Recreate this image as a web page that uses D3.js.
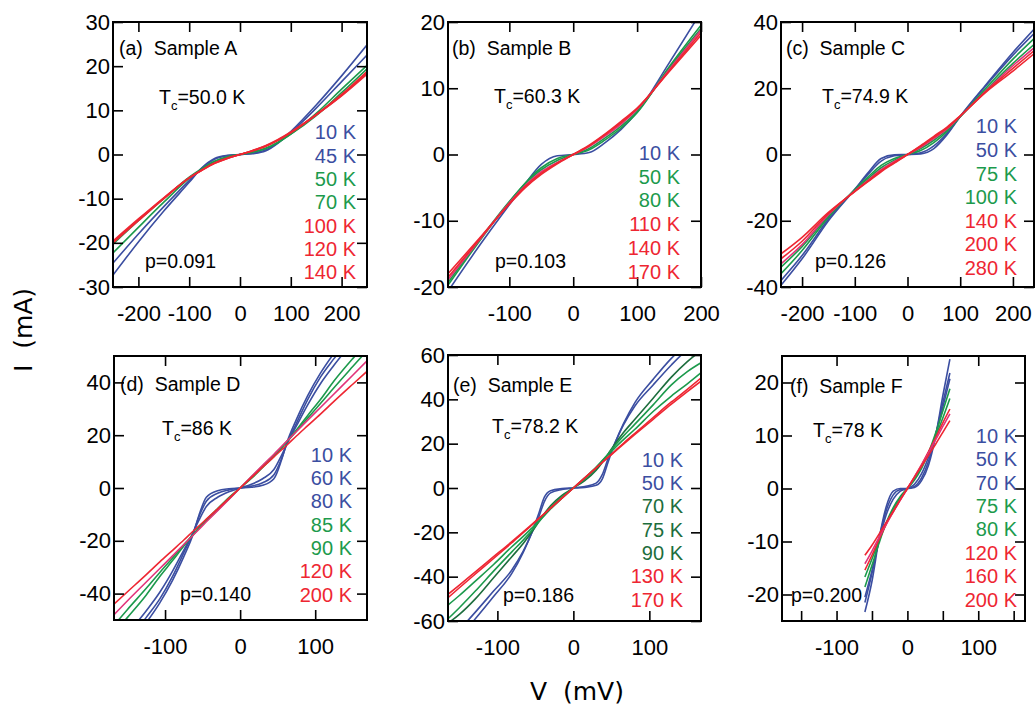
<!DOCTYPE html>
<html><head><meta charset="utf-8">
<script src="https://cdn.jsdelivr.net/npm/d3@7"></script>
<style>body{margin:0;background:#fff}svg{display:block}</style>
</head><body>
<svg id="chart" width="1035" height="707"></svg>
<script>
// ---------------- DATA ----------------
// Panel (a) Sample A
const vA = [-250,-200,-150,-100,-75,-50,-25,0,25,50,75,100,150,200,250];
const tempsA = [10,45,50,70,100,120,140];
const iA = [
  [-27.3,-19.8,-12.8,-6.3,-3.0,-0.9,-0.2,0,0.2,0.8,2.6,5.2,11.2,17.8,24.8],
  [-24.6,-18.0,-11.8,-5.9,-3.1,-1.1,-0.3,0,0.3,1.0,2.7,5.0,10.5,16.5,22.5],
  [-22.3,-16.5,-10.8,-5.4,-3.3,-1.5,-0.5,0,0.5,1.3,2.7,4.6,9.3,14.8,20.2],
  [-20.3,-15.0,-10.0,-5.1,-3.2,-1.6,-0.6,0,0.6,1.4,2.8,4.6,8.8,14.0,19.4],
  [-20.0,-15.0,-10.0,-5.3,-3.5,-1.9,-0.8,0,0.8,1.8,3.2,4.9,9.0,13.6,18.8],
  [-19.8,-14.8,-9.9,-5.3,-3.5,-2.0,-0.9,0,0.9,1.9,3.3,5.0,9.0,13.4,18.5],
  [-19.6,-14.6,-9.8,-5.3,-3.6,-2.0,-0.9,0,0.9,2.0,3.4,5.1,9.0,13.3,18.2]
];
const tcA = "50.0", pA = "0.091";
const xTicksA = [-200,-100,0,100,200], yTicksA = [-30,-20,-10,0,10,20,30];

// Panel (b) Sample B
const vB = [-195,-150,-100,-75,-50,-25,0,25,50,75,100,150,200];
const tempsB = [10,50,80,110,140,170];
const iB = [
  [-20.5,-14.2,-7.6,-4.4,-1.5,-0.2,0,0.3,1.8,3.8,6.4,13.8,21.5],
  [-19.6,-13.5,-7.2,-4.3,-2.0,-0.6,0,0.7,2.2,4.0,6.3,13.2,19.5],
  [-19.2,-13.3,-7.1,-4.4,-2.3,-0.9,0,0.9,2.5,4.3,6.5,13.0,19.0],
  [-18.8,-13.3,-7.3,-4.7,-2.6,-1.2,0,1.2,2.8,4.6,6.8,12.8,18.8],
  [-18.4,-13.2,-7.4,-4.8,-2.8,-1.3,0,1.3,3.0,4.8,6.9,12.6,18.4],
  [-17.9,-13.0,-7.5,-5.0,-3.0,-1.4,0,1.4,3.1,5.0,7.0,12.5,18.0]
];
const tcB = "60.3", pB = "0.103";
const xTicksB = [-100,0,100,200], yTicksB = [-20,-10,0,10,20];

// Panel (c) Sample C
const vC = [-240,-200,-150,-100,-75,-50,-25,0,25,50,75,100,150,200,240];
const tempsC = [10,50,75,100,140,200,280];
const iC = [
  [-39.5,-31.5,-20.0,-10.5,-5.5,-1.2,-0.1,0,0.2,1.8,6.0,11.5,21.3,30.8,37.8],
  [-38.0,-30.5,-19.5,-10.6,-6.0,-2.0,-0.4,0,0.5,2.6,6.4,11.5,21.0,30.0,36.5],
  [-36.0,-29.0,-18.9,-10.6,-6.8,-3.3,-1.2,0,1.2,3.6,7.0,11.4,20.2,28.8,35.0],
  [-34.0,-27.8,-18.5,-10.8,-7.3,-4.0,-1.7,0,1.8,4.3,7.4,11.4,19.6,27.5,33.2],
  [-33.0,-27.2,-18.2,-11.0,-7.8,-4.6,-2.1,0,2.2,4.8,7.7,11.5,19.4,26.8,32.2],
  [-31.5,-26.2,-17.8,-11.1,-8.0,-4.9,-2.4,0,2.5,5.2,8.0,11.6,19.2,26.0,31.3],
  [-30.0,-25.0,-17.5,-11.2,-8.2,-5.2,-2.6,0,2.7,5.5,8.3,11.7,19.0,25.2,30.4]
];
const tcC = "74.9", pC = "0.126";
const xTicksC = [-200,-100,0,100,200], yTicksC = [-40,-20,0,20,40];

// Panel (d) Sample D
const vD = [-168,-150,-125,-107,-90,-75,-62,-55,-45,-30,-15,0,15,30,45,55,62,75,90,107,125,150,169];
const tempsD = [10,60,80,85,90,120,200];
const iD = [
  [-68,-60,-51,-43.5,-35,-26,-17,-10.5,-3.5,-1.0,-0.3,0,0.3,1.0,3.5,10.5,17,26,35,43.5,51,60,68],
  [-66,-58,-49,-42,-33.5,-24.5,-16.5,-11,-5,-2,-0.7,0,0.7,2,5,11,16.5,24.5,33.5,42,49,58,66],
  [-63,-55.5,-46.5,-39.5,-31.5,-23.5,-16.5,-12.3,-7,-3.5,-1.4,0,1.4,3.5,7,12.3,16.5,23.5,31.5,39.5,46.5,55.5,63],
  [-55,-49,-40.5,-33.5,-27.5,-22,-17.5,-15,-12,-7.8,-3.6,0,3.6,7.8,12,15,17.5,22,27.5,33.5,40.5,49,55],
  [-52,-46,-38,-32,-26.5,-21.5,-17.5,-15.3,-12.5,-8.4,-4.2,0,4.2,8.4,12.5,15.3,17.5,21.5,26.5,32,38,46,52],
  [-48,-42.7,-35.6,-30.5,-25.7,-21.4,-17.7,-15.7,-12.8,-8.6,-4.3,0,4.3,8.6,12.8,15.7,17.7,21.4,25.7,30.5,35.6,42.7,48.2],
  [-44,-39.3,-32.8,-28,-23.6,-19.7,-16.2,-14.4,-11.8,-7.9,-3.9,0,3.9,7.9,11.8,14.4,16.2,19.7,23.6,28,32.8,39.3,44.2]
];
const tcD = "86", pD = "0.140";
const xTicksD = [-100,0,100], yTicksD = [-40,-20,0,20,40];

// Panel (e) Sample E
const vE = [-165,-150,-129,-105,-81,-66,-55,-46,-38,-30,-15,0,15,30,38,46,55,66,81,105,129,150,168];
const tempsE = [10,50,70,75,90,130,170];
const iE = [
  [-72,-67,-59,-49,-38.5,-29,-20.4,-12,-4,-1.2,-0.3,0,0.3,1.2,4,12,20.4,29,38.5,49,58.5,65,70],
  [-69.5,-64,-56,-46.5,-37,-28.5,-20.5,-13.5,-6,-2.2,-0.7,0,0.7,2.2,6,13.5,20.5,28.5,37,46.5,55.5,62.5,67],
  [-61,-57,-50,-40.5,-31,-25,-20,-15.5,-11.5,-8,-3.3,0,3.3,8,11.5,15.5,20,25,31,40.5,50,57,62],
  [-59,-54,-46.5,-37.5,-28.8,-23.5,-19.3,-15.5,-12.2,-8.8,-4.0,0,4.0,8.8,12.2,15.5,19.3,23.5,28.8,37.5,46.5,52.5,56.5],
  [-52.8,-48.5,-42,-34.5,-26.5,-21.8,-18.2,-15.0,-12.4,-9.5,-4.6,0,4.6,9.5,12.4,15.0,18.2,21.8,26.5,34.5,41.5,47,52],
  [-49.5,-45,-38.8,-31.8,-24.7,-20.2,-16.8,-14,-11.6,-9.1,-4.6,0,4.6,9.1,11.6,14,16.8,20.2,24.7,31.8,38.8,44.5,49.6],
  [-48,-43.8,-37.8,-31,-24.2,-19.8,-16.5,-13.8,-11.5,-9.1,-4.6,0,4.6,9.1,11.5,13.8,16.5,19.8,24.2,31,37.8,43.5,48.2]
];
const tcE = "78.2", pE = "0.186";
const xTicksE = [-100,0,100], yTicksE = [-60,-40,-20,0,20,40,60];

// Panel (f) Sample F
const vF = [-60,-50,-40,-30,-20,-10,0,10,20,30,40,50,60];
const tempsF = [10,50,70,75,80,120,160,200];
const iF = [
  [-23.3,-17.5,-9.5,-3.5,-0.5,0,0,0.2,1.5,4.5,10,17.5,24.4],
  [-21.5,-16,-9.5,-4.2,-1.2,-0.2,0,0.4,2.0,5.2,10.2,16.2,21.8],
  [-20.5,-15.5,-9.8,-5.0,-2.0,-0.5,0,0.8,2.8,6.0,10.2,15.3,20.7],
  [-18.6,-14.5,-10.3,-6.5,-3.6,-1.5,0,1.6,3.8,6.8,10.5,14.6,18.8],
  [-16.7,-13.3,-9.8,-6.6,-4.0,-1.8,0,1.9,4.2,6.8,9.9,13.3,17],
  [-15.4,-12.6,-9.6,-6.8,-4.4,-2.1,0,2.2,4.5,7.0,9.6,12.4,15],
  [-14.2,-11.8,-9.2,-6.7,-4.4,-2.2,0,2.2,4.4,6.8,9.2,11.7,14.1],
  [-12.6,-10.7,-8.6,-6.4,-4.3,-2.1,0,2.1,4.2,6.3,8.4,10.6,12.8]
];
const tcF = "78", pF = "0.200";
const xTicksF = [-100,0,100], yTicksF = [-20,-10,0,10,20];
const xMinorF = [-150,-50,50,150];

// ---------------- STYLE / LAYOUT ----------------
const BLUE = "#3b4ea1", GREEN = "#1c9a4c", DGREEN = "#1d6d3d", RED = "#ee2632", PINK = "#e2337a";

const panels = [
  {tag:"(a)", name:"Sample A", v:vA, temps:tempsA, I:iA, tc:tcA, p:pA, xt:xTicksA, yt:yTicksA, xm:[],
   box:[113,22,367,287], xd:[-250,250], yd:[-30,30],
   lineCol:[BLUE,BLUE,GREEN,GREEN,RED,RED,RED], labCol:[BLUE,BLUE,GREEN,GREEN,RED,RED,RED],
   tagPos:[6,33], tcPos:[46,82], pPos:[32,19], leg:[356,139.3,23.3]},
  {tag:"(b)", name:"Sample B", v:vB, temps:tempsB, I:iB, tc:tcB, p:pB, xt:xTicksB, yt:yTicksB, xm:[],
   box:[448,22,701,287], xd:[-196,200], yd:[-20,20],
   lineCol:[BLUE,GREEN,GREEN,PINK,RED,RED], labCol:[BLUE,GREEN,GREEN,RED,RED,RED],
   tagPos:[4,33], tcPos:[46,81], pPos:[47,19], leg:[680,160,23.7]},
  {tag:"(c)", name:"Sample C", v:vC, temps:tempsC, I:iC, tc:tcC, p:pC, xt:xTicksC, yt:yTicksC, xm:[],
   box:[781,22,1034,287], xd:[-240,240], yd:[-40,40],
   lineCol:[BLUE,BLUE,GREEN,GREEN,PINK,RED,RED], labCol:[BLUE,BLUE,GREEN,GREEN,RED,RED,RED],
   tagPos:[5,33], tcPos:[41,81], pPos:[34,19], leg:[1017,133.3,23.6]},
  {tag:"(d)", name:"Sample D", v:vD, temps:tempsD, I:iD, tc:tcD, p:pD, xt:xTicksD, yt:yTicksD, xm:[],
   box:[114,356,367,620], xd:[-168,169], yd:[-50,50],
   lineCol:[BLUE,BLUE,BLUE,GREEN,GREEN,PINK,RED], labCol:[BLUE,BLUE,BLUE,GREEN,GREEN,RED,RED],
   tagPos:[6,35], tcPos:[48,79], pPos:[66,19], leg:[352,461.7,23.3]},
  {tag:"(e)", name:"Sample E", v:vE, temps:tempsE, I:iE, tc:tcE, p:pE, xt:xTicksE, yt:yTicksE, xm:[],
   box:[448,355,701,621], xd:[-165,168], yd:[-60,60],
   lineCol:[BLUE,BLUE,DGREEN,GREEN,GREEN,RED,RED], labCol:[BLUE,BLUE,DGREEN,DGREEN,DGREEN,RED,RED],
   tagPos:[5,37], tcPos:[44,78], pPos:[55,19], leg:[683,466.7,23.3]},
  {tag:"(f)", name:"Sample F", v:vF, temps:tempsF, I:iF, tc:tcF, p:pF, xt:xTicksF, yt:yTicksF, xm:xMinorF,
   box:[782,356,1025,621], xd:[-177,166], yd:[-25,25],
   lineCol:[BLUE,BLUE,BLUE,GREEN,GREEN,RED,PINK,RED], labCol:[BLUE,BLUE,BLUE,GREEN,GREEN,RED,RED,RED],
   tagPos:[8,37], tcPos:[31,81], pPos:[9,19], leg:[1017,442.7,23.4]}
];

const FONT = "'Liberation Sans', Arial, Helvetica, sans-serif";
const svg = d3.select("#chart");
const defs = svg.append("defs");

panels.forEach((P, k) => {
  const [x0,y0,x1,y1] = P.box;
  const x = d3.scaleLinear().domain(P.xd).range([x0,x1]);
  const y = d3.scaleLinear().domain(P.yd).range([y1,y0]);
  const g = svg.append("g");

  defs.append("clipPath").attr("id","clip"+k)
    .append("rect").attr("x",x0).attr("y",y0).attr("width",x1-x0).attr("height",y1-y0);

  // curves
  const line = d3.line().x(d=>x(d[0])).y(d=>y(d[1])).curve(d3.curveMonotoneX);
  const cg = g.append("g").attr("clip-path","url(#clip"+k+")");
  P.I.forEach((arr,j) => {
    const pts = P.v.map((vv,i)=>[vv,arr[i]]);
    cg.append("path").attr("d",line(pts)).attr("fill","none")
      .attr("stroke",P.lineCol[j]).attr("stroke-width",1.6);
  });

  // axes with inward ticks
  const fmt = d => String(d);
  const axL = g.append("g").attr("transform",`translate(${x0},0)`)
    .call(d3.axisLeft(y).tickValues(P.yt).tickSizeInner(-10).tickSizeOuter(0).tickPadding(6).tickFormat(fmt));
  const axR = g.append("g").attr("transform",`translate(${x1},0)`)
    .call(d3.axisRight(y).tickValues(P.yt).tickSizeInner(-10).tickSizeOuter(0).tickFormat(""));
  const axB = g.append("g").attr("transform",`translate(0,${y1})`)
    .call(d3.axisBottom(x).tickValues(P.xt).tickSizeInner(-10).tickSizeOuter(0).tickPadding(18).tickFormat(fmt));
  const axT = g.append("g").attr("transform",`translate(0,${y0})`)
    .call(d3.axisTop(x).tickValues(P.xt).tickSizeInner(-10).tickSizeOuter(0).tickFormat(""));
  const axM = g.append("g").attr("transform",`translate(0,${y1})`)
    .call(d3.axisBottom(x).tickValues(P.xm).tickSizeInner(-10).tickSizeOuter(0).tickFormat(""));
  [axL,axR,axB,axT,axM].forEach(a => {
    a.select(".domain").remove();
    a.selectAll(".tick line").attr("stroke","#000").attr("stroke-width",1.6);
    a.selectAll("text").attr("font-family",FONT).attr("font-size",22).attr("fill","#000");
  });
  axL.selectAll("text").attr("dx",3);

  // frame
  g.append("rect").attr("x",x0).attr("y",y0).attr("width",x1-x0).attr("height",y1-y0)
    .attr("fill","none").attr("stroke","#000").attr("stroke-width",2);

  // annotations
  g.append("text").attr("x",x0+P.tagPos[0]).attr("y",y0+P.tagPos[1])
    .attr("font-family",FONT).attr("font-size",19.5).text(P.tag + "\u00a0\u00a0" + P.name);
  const tc = g.append("text").attr("x",x0+P.tcPos[0]).attr("y",y0+P.tcPos[1])
    .attr("font-family",FONT).attr("font-size",19.5);
  tc.append("tspan").text("T");
  tc.append("tspan").attr("font-size",13).attr("dy",6).text("c");
  tc.append("tspan").attr("dy",-6).text("=" + P.tc + " K");
  g.append("text").attr("x",x0+P.pPos[0]).attr("y",y1-P.pPos[1])
    .attr("font-family",FONT).attr("font-size",19.5).text("p=" + P.p);

  // legend
  P.temps.forEach((t,j) => {
    g.append("text").attr("x",P.leg[0]).attr("y",P.leg[1]+j*P.leg[2])
      .attr("text-anchor","end").attr("font-family",FONT).attr("font-size",20)
      .attr("fill",P.labCol[j]).text(t + " K");
  });
});

// global axis titles
const TFONT = "'DejaVu Sans', Verdana, sans-serif";
svg.append("text").attr("transform","translate(32,330) rotate(-90)")
  .attr("text-anchor","middle").attr("font-family",TFONT).attr("font-size",25)
  .text("I\u00a0\u00a0(mA)");
svg.append("text").attr("x",577).attr("y",700)
  .attr("text-anchor","middle").attr("font-family",TFONT).attr("font-size",25)
  .text("V\u00a0\u00a0(mV)");
</script>
</body></html>
